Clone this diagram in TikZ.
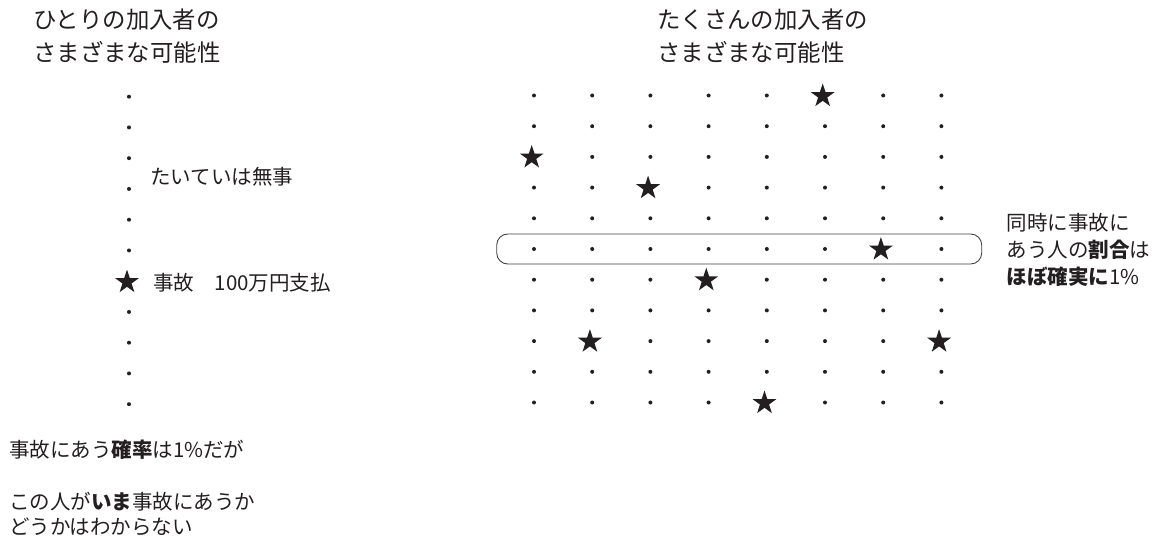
\documentclass[tikz,border=0pt]{standalone}
\usepackage{fontspec}
\setmainfont{Noto Sans CJK JP}
\usetikzlibrary{shapes.geometric}
\definecolor{ink}{HTML}{231F20}
\begin{document}
\begin{tikzpicture}[x=1pt,y=-1pt,
  dot/.style={circle,fill=ink,inner sep=0pt,minimum size=4pt},
  starmark/.style={star,star points=5,star point ratio=2.6,fill=ink,inner sep=0pt,minimum size=25pt},
  title/.style={font=\fontsize{23.4}{33}\selectfont,align=left,anchor=west,inner sep=0pt,text=ink},
  body/.style={font=\fontsize{20.5}{27}\selectfont,align=left,anchor=west,inner sep=0pt,text=ink},
  band/.style={draw=ink!85,line width=0.9pt,rounded corners=11pt}]
\useasboundingbox (0,0) rectangle (1153,537);

% titles
\node[title] (titleL) at (33,36.5) {ひとりの加入者の\\さまざまな可能性};
\node[title] (titleR) at (657,36.5) {たくさんの加入者の\\さまざまな可能性};

% left column
\foreach \i in {0,1,2,3,4,5,7,8,9,10}
  \node[dot] (l\i) at (129,{96.7+30.75*\i}) {};
\node[starmark] (l6) at (127,282) {};
\node[body] (calm) at (150,177) {たいていは無事};
\node[body] (accident) at (153,283) {事故　100万円支払};

% grid stars
\foreach \i/\j in {0/5,2/0,3/2,5/6,6/3,8/1,8/7,10/4}{
  \expandafter\gdef\csname s-\i-\j\endcsname{}}
\foreach \j in {0,...,7}{
  \foreach \i in {0,...,10}{
    \ifcsname s-\i-\j\endcsname
      \node[starmark] (g\i-\j) at ({534+58.2*\j-2.3},{95.5+30.7*\i+0.5}) {};
    \else
      \node[dot] (g\i-\j) at ({534+58.2*\j},{95.5+30.7*\i}) {};
    \fi
  }}

% highlighted row
\draw[band] (496.7,234) rectangle (981.7,264);
\node[body] (note) at (1006.5,250) {同時に事故に\\あう人の\textbf{割合}は\\\textbf{ほぼ確実に}1\%};

% bottom texts
\node[body] (prob) at (9,450) {事故にあう\textbf{確率}は1\%だが};
\node[body,font=\fontsize{20.5}{24.5}\selectfont] (uncertain) at (9,514) {この人が\textbf{いま}事故にあうか\\どうかはわからない};
\end{tikzpicture}
\end{document}
